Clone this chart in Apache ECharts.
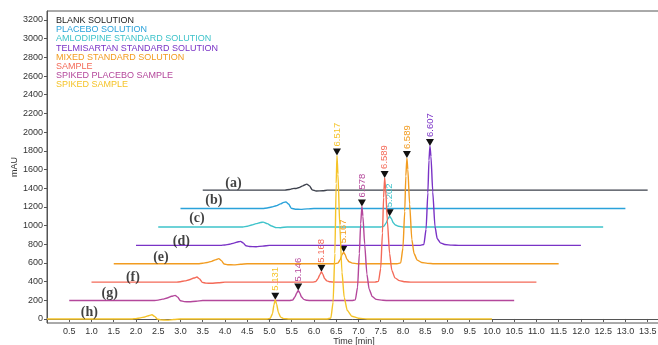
<!DOCTYPE html>
<html><head><meta charset="utf-8">
<script src="https://cdn.jsdelivr.net/npm/echarts@6/dist/echarts.min.js"></script>
<style>html,body{margin:0;padding:0;background:#fff}#c{width:658px;height:345px}</style>
</head><body><div id="c"></div>
<script>
// ---- data (displayed time [min], mAU) ----
const seriesNames = ['BLANK SOLUTION','PLACEBO SOLUTION','AMLODIPINE STANDARD SOLUTION','TELMISARTAN STANDARD SOLUTION','MIXED STANDARD SOLUTION','SAMPLE','SPIKED PLACEBO SAMPLE','SPIKED SAMPLE'];
const traceTags = ['(a)','(b)','(c)','(d)','(e)','(f)','(g)','(h)'];
const tagTimes = [4.19, 3.75, 3.37, 3.02, 2.56, 1.93, 1.41, 0.95];
const tagLevels = [1454, 1268, 1073, 832, 661, 450, 272, 75];

const traceA = [[3.5,1379],[5.35,1379],[5.45,1386],[5.55,1398],[5.6,1396],[5.65,1405],[5.75,1425],[5.84,1443],[5.9,1425],[5.96,1382],[6.05,1370],[6.2,1372],[6.3,1379],[13.5,1379]];
const traceB = [[3.0,1182],[4.85,1182],[4.95,1188],[5.05,1198],[5.15,1212],[5.25,1232],[5.32,1248],[5.37,1252],[5.43,1230],[5.49,1185],[5.58,1175],[5.7,1173],[5.85,1178],[6.0,1182],[13.0,1182]];
const traceC = [[2.5,985],[4.4,985],[4.5,992],[4.6,1005],[4.7,1020],[4.8,1033],[4.86,1037],[4.95,1020],[5.05,995],[5.15,978],[5.25,977],[5.4,985],[7.5,985],[7.57,992],[7.62,1025],[7.66,1070],[7.702,1100],[7.74,1075],[7.78,1030],[7.83,1005],[7.9,993],[8.0,985],[12.5,985]];
const traceD = [[2.0,788],[3.9,788],[4.0,792],[4.1,800],[4.2,812],[4.3,826],[4.35,831],[4.41,815],[4.47,783],[4.55,775],[4.7,773],[4.85,780],[5.0,788],[8.39,788],[8.47,797],[8.52,960],[8.56,1350],[8.585,1700],[8.607,1852],[8.63,1740],[8.67,1360],[8.72,990],[8.77,860],[8.84,815],[8.94,797],[9.1,790],[9.25,788],[12.0,788]];
const traceE = [[1.5,591],[3.4,591],[3.5,596],[3.6,605],[3.7,617],[3.8,635],[3.86,646],[3.92,625],[3.98,589],[4.06,581],[4.2,579],[4.35,585],[4.5,591],[6.47,591],[6.54,598],[6.59,635],[6.63,685],[6.667,715],[6.7,690],[6.74,640],[6.79,612],[6.86,598],[6.97,591],[7.87,591],[7.95,600],[8.0,760],[8.04,1150],[8.065,1530],[8.089,1722],[8.11,1600],[8.15,1230],[8.2,850],[8.25,700],[8.32,630],[8.42,605],[8.55,595],[8.7,591],[11.5,591]];
const traceF = [[1.0,394],[2.9,394],[3.0,399],[3.1,408],[3.2,420],[3.3,438],[3.37,449],[3.43,428],[3.49,392],[3.57,384],[3.7,382],[3.85,388],[4.0,394],[5.97,394],[6.04,401],[6.09,430],[6.13,472],[6.168,505],[6.2,478],[6.24,432],[6.29,408],[6.36,398],[6.47,394],[7.37,394],[7.45,402],[7.5,540],[7.54,920],[7.565,1300],[7.589,1510],[7.61,1390],[7.65,1050],[7.7,700],[7.75,520],[7.82,440],[7.92,410],[8.05,398],[8.2,394],[11.0,394]];
const traceG = [[0.5,197],[2.4,197],[2.5,202],[2.6,212],[2.7,225],[2.8,243],[2.88,253],[2.94,232],[3.0,195],[3.08,186],[3.2,184],[3.35,190],[3.5,197],[5.45,197],[5.52,203],[5.57,235],[5.61,275],[5.646,305],[5.68,280],[5.72,235],[5.77,210],[5.84,200],[5.95,197],[6.85,197],[6.93,205],[6.98,340],[7.02,700],[7.05,1020],[7.078,1205],[7.1,1100],[7.14,800],[7.19,480],[7.24,320],[7.31,240],[7.4,210],[7.55,200],[7.7,197],[10.5,197]];
const traceH = [[0,0],[1.9,0],[2.0,4],[2.1,12],[2.2,22],[2.3,38],[2.36,45],[2.42,28],[2.48,-2],[2.56,-10],[2.7,-12],[2.85,-6],[3.0,0],[4.95,0],[5.02,8],[5.07,60],[5.1,150],[5.131,207],[5.16,160],[5.2,70],[5.25,20],[5.32,4],[5.45,0],[6.3,0],[6.38,10],[6.43,180],[6.47,700],[6.5,1450],[6.517,1750],[6.54,1550],[6.58,1000],[6.63,500],[6.68,230],[6.75,90],[6.85,30],[7.0,8],[7.2,0],[10.0,0]];

// peaks: [displayed time, apex mAU, retention-time label]
const peaksA = [];
const peaksB = [];
const peaksC = [[7.702,1100,'5.202']];
const peaksD = [[8.607,1852,'6.607']];
const peaksE = [[6.667,715,'5.167'],[8.089,1722,'6.589']];
const peaksF = [[6.168,505,'5.168'],[7.589,1510,'6.589']];
const peaksG = [[5.646,305,'5.146'],[7.078,1205,'6.578']];
const peaksH = [[5.131,207,'5.131'],[6.517,1750,'6.517']];

const xTicks = [0.5,1.0,1.5,2.0,2.5,3.0,3.5,4.0,4.5,5.0,5.5,6.0,6.5,7.0,7.5,8.0,8.5,9.0,9.5,10.0,10.5,11.0,11.5,12.0,12.5,13.0,13.5];
const yTicks = [0,200,400,600,800,1000,1200,1400,1600,1800,2000,2200,2400,2600,2800,3000,3200];

// ---- chart ----
const traces = [traceA,traceB,traceC,traceD,traceE,traceF,traceG,traceH];
const peaks = [peaksA,peaksB,peaksC,peaksD,peaksE,peaksF,peaksG,peaksH];
const colors = ['#3d414c','#2aa2da','#3ec3ca','#7a33c6','#f29c20','#f46a58','#b4479b','#f5c328'];
const legendColors = ['#222222','#2aa2da','#3ec3ca','#7a33c6','#f29c20','#f46a58','#b4479b','#f5c328'];
const FONT = 'Liberation Sans, Arial, sans-serif';

const series = traces.map((tr, i) => ({
  name: seriesNames[i],
  type: 'line',
  data: tr,
  showSymbol: false,
  smooth: 0.2,
  smoothMonotone: 'x',
  color: colors[i],
  lineStyle: {width: 1.4, color: colors[i]},
  z: 2 + i,
  markPoint: {
    symbol: 'triangle',
    symbolSize: [8, 7],
    symbolRotate: 180,
    symbolOffset: [0, -3.5],
    itemStyle: {color: '#111'},
    label: {
      show: true, position: 'top', distance: 2, rotate: 90,
      align: 'left', verticalAlign: 'middle',
      fontSize: 9.5, fontFamily: FONT, color: colors[i],
      formatter: p => p.data.txt
    },
    data: peaks[i].map(p => ({coord: [p[0], p[1]], txt: p[2]}))
  }
}));

series.push({
  name: 'tags', type: 'scatter', symbolSize: 0, silent: true, z: 20,
  data: traceTags.map((t, i) => ({value: [tagTimes[i], tagLevels[i]], name: t})),
  label: {show: true, position: 'inside', formatter: p => p.name,
    fontFamily: 'Liberation Serif, Times New Roman, serif', fontWeight: 'bold', fontSize: 14, color: '#111'}
});

const chart = echarts.init(document.getElementById('c'), null, {renderer: 'canvas'});
chart.setOption({
  animation: false,
  backgroundColor: '#fff',
  grid: {left: 47, right: -3, top: 11, bottom: 22, outerBoundsMode: 'none', containLabel: false,
    show: true, borderColor: '#555', borderWidth: 1, backgroundColor: 'transparent'},
  legend: {
    orient: 'vertical', left: 51, top: 16, padding: 0, itemGap: 0.2,
    icon: 'none', itemWidth: 0, itemHeight: 9, selectedMode: false,
    textStyle: {fontSize: 9, fontFamily: FONT, lineHeight: 9},
    data: seriesNames.map((n, i) => ({name: n, textStyle: {color: legendColors[i]}}))
  },
  xAxis: {
    type: 'value', min: 0, max: 13.8,
    name: 'Time [min]', nameLocation: 'middle', nameGap: 19, nameMoveOverlap: false,
    nameTextStyle: {fontSize: 9, fontFamily: FONT, color: '#333', verticalAlign: 'middle'},
    axisLine: {show: true, lineStyle: {color: '#555', width: 1}},
    axisTick: {show: true, length: 3, customValues: xTicks, lineStyle: {color: '#555'}},
    axisLabel: {fontSize: 9, fontFamily: FONT, color: '#333', margin: 4, customValues: xTicks, formatter: v => v.toFixed(1)},
    splitLine: {show: false}
  },
  yAxis: {
    type: 'value', min: -43, max: 3296,
    name: 'mAU', nameLocation: 'middle', nameGap: 28, nameMoveOverlap: false,
    nameTextStyle: {fontSize: 9, fontFamily: FONT, color: '#333'},
    axisLine: {show: true, lineStyle: {color: '#555', width: 1}},
    axisTick: {show: true, length: 3, customValues: yTicks, lineStyle: {color: '#555'}},
    axisLabel: {fontSize: 9, fontFamily: FONT, color: '#333', margin: 4, customValues: yTicks, formatter: v => String(v)},
    splitLine: {show: false}
  },
  series: series
});
</script>
</body></html>
